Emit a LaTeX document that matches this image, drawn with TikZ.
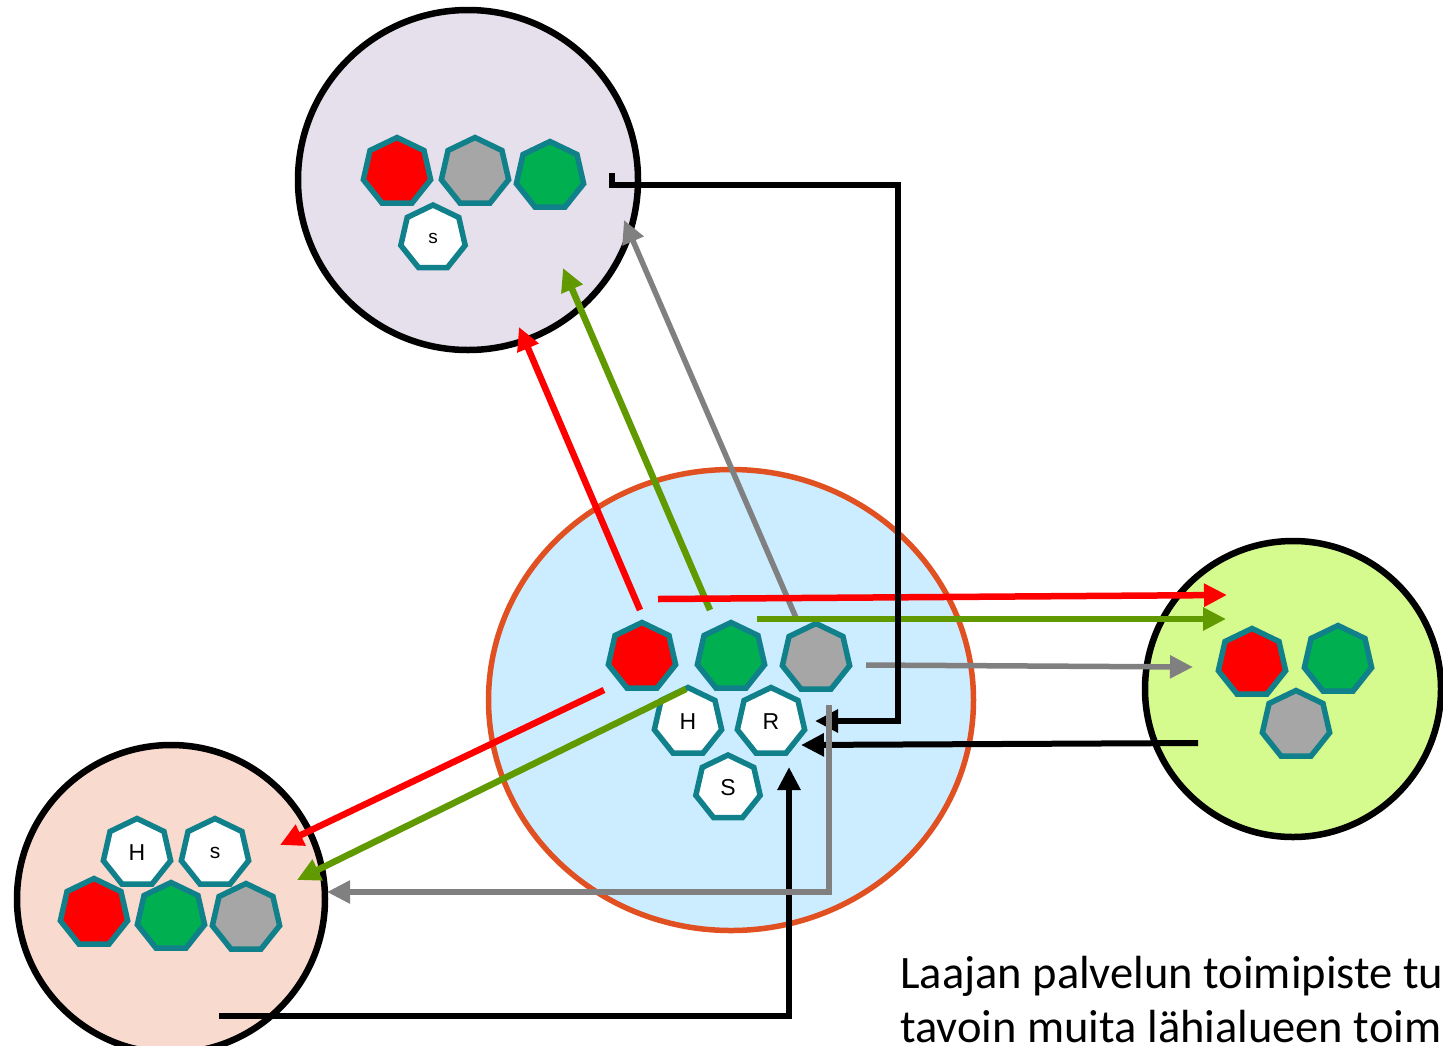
\documentclass[tikz,border=0pt]{standalone}
\usepackage{fontspec}
\setmainfont{Carlito}
\newfontfamily\arialf{Liberation Sans}
\usetikzlibrary{shapes.geometric,arrows.meta}
\definecolor{tealb}{RGB}{16,128,138}
\definecolor{lav}{RGB}{230,224,236}
\definecolor{skyb}{RGB}{204,236,255}
\definecolor{lime}{RGB}{213,250,142}
\definecolor{pinkb}{RGB}{249,218,207}
\definecolor{ringo}{RGB}{224,80,32}
\definecolor{redc}{RGB}{255,0,0}
\definecolor{greenc}{RGB}{0,176,80}
\definecolor{grayc}{RGB}{166,166,166}
\definecolor{olive}{RGB}{96,153,0}
\definecolor{garrow}{RGB}{128,128,128}
\begin{document}
\begin{tikzpicture}[x=1pt,y=-1pt,
  hep/.style={regular polygon, regular polygon sides=7, minimum size=69pt, inner sep=0pt,
    draw=tealb, line width=5.5pt, font=\arialf\fontsize{23}{23}\selectfont},
  hr/.style={hep, fill=redc},
  hg/.style={hep, fill=greenc},
  hy/.style={hep, fill=grayc},
  hw/.style={hep, fill=white},
  place/.style={circle, draw=black, line width=6.5pt, inner sep=0pt},
  tip/.style={-{Triangle[length=23pt,width=22pt]}},
  redar/.style={tip, draw=redc, line width=6.5pt},
  grnar/.style={tip, draw=olive, line width=6.5pt},
  gryar/.style={tip, draw=garrow, line width=5.5pt},
  blkar/.style={tip, draw=black, line width=6pt},
  captxt/.style={anchor=base west, inner sep=0pt, font=\fontsize{46.5}{55}\selectfont},
]
\useasboundingbox (0,0) rectangle (1443,1045);
\clip (0,0) rectangle (1443,1045);
\fill[white] (0,0) rectangle (1443,1045);

% places
\node[place, fill=lav, minimum size=340pt] (topc) at (468,180) {};
\node[ellipse, draw=ringo, line width=5.5pt, fill=skyb, minimum width=485pt, minimum height=461pt, inner sep=0pt] (cen) at (731,700) {};
\node[place, fill=lime, minimum size=296pt] (rgt) at (1293,689) {};
\node[place, fill=pinkb, minimum size=308pt] (lft) at (171,899) {};

% heptagons top
\node[hr] (t1) at (397,172) {};
\node[hy] (t2) at (475,172) {};
\node[hg] (t3) at (550,176) {};
\node[hw, minimum size=66pt, font=\arialf\fontsize{19}{19}\selectfont] (t4) at (433,238) {s};

% heptagons center
\node[hr] (c1) at (642,657) {};
\node[hg] (c2) at (731,657) {};
\node[hy] (c3) at (816,658) {};
\node[hw] (cH) at (688,722) {H};
\node[hw] (cR) at (771,722) {R};
\node[hw, minimum size=66pt] (cS) at (728,788) {S};

% heptagons right
\node[hr] (r1) at (1252,663) {};
\node[hg] (r2) at (1338,660) {};
\node[hy] (r3) at (1296,725) {};

% heptagons left
\node[hw] (lH) at (137,853) {H};
\node[hw, font=\arialf\fontsize{21}{21}\selectfont] (ls) at (215,853) {s};
\node[hr] (l1) at (94,913) {};
\node[hg] (l2) at (171,917) {};
\node[hy] (l3) at (246,918) {};

% coordinates of connector ends
\coordinate (a1s) at (640,610); \coordinate (a1e) at (519,327);
\coordinate (a2s) at (710,610); \coordinate (a2e) at (563,268);
\coordinate (a3s) at (797,620); \coordinate (a3e) at (624,220);
\coordinate (b1s) at (658,599); \coordinate (b1e) at (1227,595);
\coordinate (b2s) at (757,619); \coordinate (b2e) at (1226,619);
\coordinate (b3s) at (866,665); \coordinate (b3e) at (1193,667);
\coordinate (d1s) at (604,690); \coordinate (d1e) at (280,845);
\coordinate (d2s) at (686,689); \coordinate (d2e) at (297,880);
\coordinate (k1s) at (612,173); \coordinate (k1e) at (815,721);
\coordinate (k2s) at (1198,743); \coordinate (k2e) at (801,745);
\coordinate (k3s) at (219,1016); \coordinate (k3e) at (789,767);
\coordinate (g4s) at (829,705); \coordinate (g4e) at (327,892);

% arrows
\draw[redar] (a1s) -- (a1e);
\draw[grnar] (a2s) -- (a2e);
\draw[gryar] (a3s) -- (a3e);
\draw[redar] (b1s) -- (b1e);
\draw[grnar] (b2s) -- (b2e);
\draw[gryar] (b3s) -- (b3e);
\draw[redar] (d1s) -- (d1e);
\draw[grnar] (d2s) -- (d2e);
\draw[blkar] (k1s) -- (612,185) -- (898,185) -- (898,721) -- (k1e);
\draw[blkar] (k2s) -- (k2e);
\draw[blkar] (k3s) -- (789,1016) -- (k3e);
\draw[gryar] (g4s) -- (829,892) -- (g4e);

% caption (cut off at the right edge, as in the reference)
\node[captxt] (cap1) at (900,988) {Laajan palvelun toimipiste tu};
\node[captxt] (cap2) at (900,1042) {tavoin muita lähialueen toim};
\end{tikzpicture}
\end{document}
